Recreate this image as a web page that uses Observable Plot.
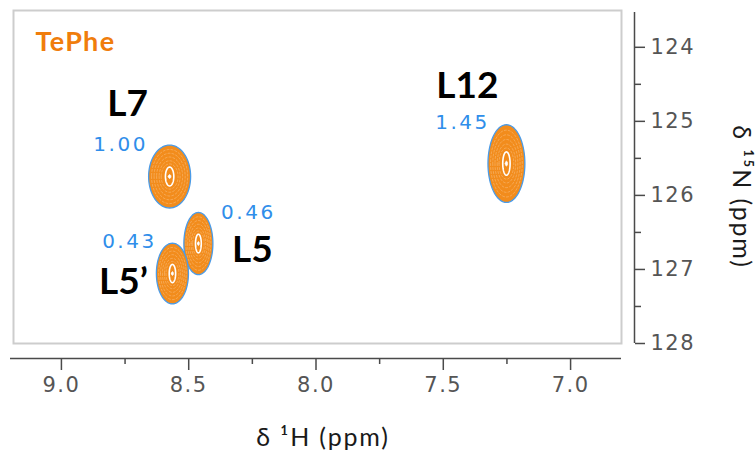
<!DOCTYPE html>
<html><head><meta charset="utf-8">
<script src="https://cdn.jsdelivr.net/npm/d3@7"></script>
<script src="https://cdn.jsdelivr.net/npm/@observablehq/plot@0.6"></script>
<style>
html,body{margin:0;padding:0;background:#fff;}
#chart svg [aria-label="x-axis tick label"] text,
#chart svg [aria-label="y-axis tick label"] text{letter-spacing:1.5px;}
.val{letter-spacing:2.5px;}
.ttl{letter-spacing:1.8px;}
.smp{letter-spacing:1.3px;}
</style></head><body><div id="chart"></div>
<script>
// ---- data ----
const peakNames = ["L7", "L5", "L5’", "L12"];
const peakH = [8.575, 8.462, 8.564, 7.252];        // δ 1H (ppm)
const peakN = [125.745, 126.65, 127.055, 125.57];  // δ 15N (ppm)
const peakWidthH = [0.165, 0.114, 0.126, 0.145];   // 1H linewidth (ppm)
const peakWidthN = [0.85, 0.84, 0.82, 1.05];       // 15N linewidth (ppm)
const intensity = ["1.00", "0.46", "0.43", "1.45"];
const sampleName = "TePhe";
const xTicks = [9.0, 8.5, 8.0, 7.5, 7.0];
const xMinor = [8.75, 8.25, 7.75, 7.25];
const yTicks = [124, 125, 126, 127, 128];
const yMinor = [124.5, 125.5, 126.5, 127.5];
const xDomain = [9.2, 6.8];
const yDomain = [123.53, 128];
const xTitle = "δ ¹H (ppm)";
const yTitle = "δ ¹⁵N (ppm)";

// ---- layout (pixel offsets of annotations) ----
const nameOffset = [[-42, -72], [54, 7], [-49, 9], [-39, -77]];
const valueOffset = [[-49, -32], [50, -31], [-43, -32], [-44, -41]];

// ---- contour rings built from the peak table ----
const peaks = peakNames.map((name, i) => ({name, h: peakH[i], n: peakN[i], wh: peakWidthH[i], wn: peakWidthN[i], v: intensity[i]}));
function ring(p, rx, ry, id) {
  const pts = [];
  const N = 72;
  for (let k = 0; k < N; k++) {
    const t = (2 * Math.PI * k) / N;
    pts.push({id, x: p.h + (p.wh / 2) * rx * Math.cos(t), y: p.n + (p.wn / 2) * ry * Math.sin(t)});
  }
  return pts;
}
const outer = peaks.flatMap((p, i) => ring(p, 1, 1, "o" + i));
const inner = peaks.flatMap((p, i) => [0.86, 0.74, 0.62, 0.5, 0.4].flatMap((r, j) => ring(p, r, r, `i${i}-${j}`)));
const core = peaks.flatMap((p, i) => ring(p, 0.2, 0.3, "c" + i));
const dotc = peaks.flatMap((p, i) => ring(p, 0.06, 0.06, "d" + i));

const tickFont = "'DejaVu Sans', Verdana, sans-serif";
const labFont = "Lato, 'Open Sans', sans-serif";

const marks = [
  Plot.frame({stroke: "#cdcdcd", strokeWidth: 2, insetLeft: 3, insetTop: -2}),
  Plot.line(outer, {x: "x", y: "y", z: "id", curve: "linear-closed", fill: "#f28c1c", stroke: "#4a9be8", strokeWidth: 1.3}),
  Plot.line(inner, {x: "x", y: "y", z: "id", curve: "linear-closed", stroke: "#fff", strokeOpacity: 0.35, strokeWidth: 0.7, strokeDasharray: "2,2"}),
  Plot.line(core, {x: "x", y: "y", z: "id", curve: "linear-closed", stroke: "#fff", strokeWidth: 1.6}),
  Plot.line(dotc, {x: "x", y: "y", z: "id", curve: "linear-closed", fill: "#fff", stroke: "#fff", strokeWidth: 1}),
  // axes
  Plot.ruleY([yDomain[1]], {dy: 15, stroke: "#4a4a4a", strokeWidth: 1.5}),
  Plot.ruleX([xDomain[1]], {dx: 13, stroke: "#4a4a4a", strokeWidth: 1.5}),
  Plot.axisX(xTicks, {anchor: "bottom", dy: 15, tickSize: 12, tickPadding: 7, tickFormat: d3.format(".1f"), stroke: "#4a4a4a", strokeWidth: 1.5, fill: "#555", fontSize: 21, fontFamily: tickFont, label: null}),
  Plot.axisX(xMinor, {anchor: "bottom", dy: 15, tickSize: 6, stroke: "#4a4a4a", strokeWidth: 1.5, fill: "none", label: null}),
  Plot.axisY(yTicks, {anchor: "right", dx: 13, tickSize: 10, tickPadding: 6, tickFormat: d3.format("d"), stroke: "#4a4a4a", strokeWidth: 1.5, fill: "#555", fontSize: 21, fontFamily: tickFont, label: null}),
  Plot.axisY(yMinor, {anchor: "right", dx: 13, tickSize: 6, stroke: "#4a4a4a", strokeWidth: 1.5, fill: "none", label: null}),
  Plot.text([xTitle], {frameAnchor: "bottom", textAnchor: "middle", lineAnchor: "middle", dx: 7, dy: 94, fontSize: 25, fontFamily: labFont, fill: "#1a1a1a", className: "ttl"}),
  Plot.text([yTitle], {frameAnchor: "right", textAnchor: "middle", lineAnchor: "middle", dx: 119, dy: 19, rotate: 90, fontSize: 25, fontFamily: labFont, fill: "#1a1a1a", className: "ttl"}),
  Plot.text([sampleName], {frameAnchor: "top-left", textAnchor: "start", lineAnchor: "middle", dx: 25, dy: 30, fontSize: 27, fontWeight: "bold", fontFamily: labFont, fill: "#f07d0c", className: "smp"}),
  ...peaks.map((p, i) => Plot.text([p], {x: "h", y: "n", text: "name", dx: nameOffset[i][0], dy: nameOffset[i][1], fontSize: 37, fontWeight: "bold", fontFamily: labFont, fill: "#000"})),
  ...peaks.map((p, i) => Plot.text([p], {x: "h", y: "n", text: "v", dx: valueOffset[i][0], dy: valueOffset[i][1], fontSize: 20, fontFamily: tickFont, fill: "#2f8eea", className: "val"}))
];

const chart = Plot.plot({
  width: 756, height: 453,
  marginLeft: 10, marginRight: 135, marginTop: 12, marginBottom: 110,
  x: {domain: xDomain, label: null},
  y: {domain: yDomain, reverse: true, label: null},
  style: {background: "white", overflow: "visible"},
  marks
});
document.getElementById("chart").appendChild(chart);
</script></body></html>
